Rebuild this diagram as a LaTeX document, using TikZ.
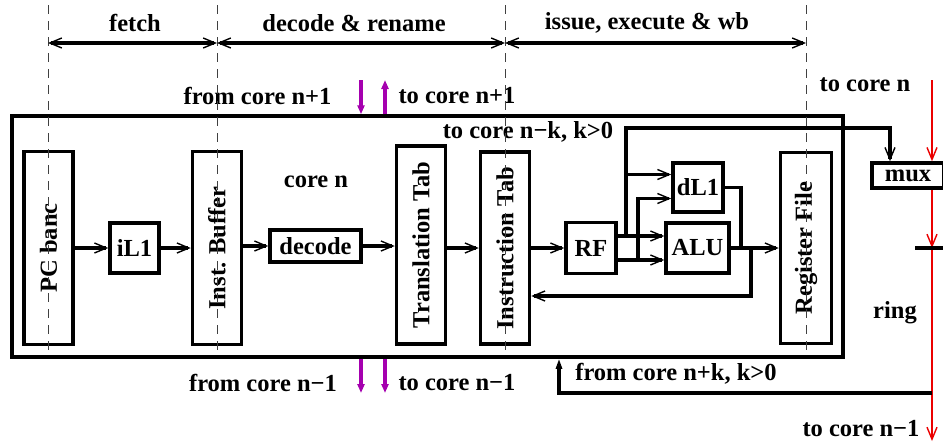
\documentclass[tikz,border=0pt]{standalone}
\usepackage{fontspec}
\setmainfont{Liberation Serif}
\usetikzlibrary{arrows.meta}

\definecolor{ringred}{RGB}{235,0,0}
\definecolor{linkmag}{RGB}{165,0,175}

\tikzset{
  txt/.style={font=\fontsize{24.5}{28}\selectfont\bfseries, inner sep=0pt},
  blk/.style={txt, draw, line width=3.5pt},
  tallblk/.style={blk, minimum width=49pt, minimum height=193pt},
  barb/.tip={Straight Barb[length=12pt,width=10pt,line width=1.4pt]},
  wire/.style={line width=3.3pt, -barb},
  plain/.style={line width=3.3pt},
  stage/.style={line width=3.3pt, barb-barb},
  sep/.style={line width=1pt, dash pattern=on 9pt off 7pt, black!75},
  ring/.style={ringred, line width=2.8pt, -barb},
  link/.style={linkmag, line width=3.3pt, -{Triangle[length=9pt,width=7pt]}},
  ext/.style={line width=3.3pt, -{Triangle[length=10pt,width=6pt]}}
}

\begin{document}
\begin{tikzpicture}[x=1pt,y=-1pt]
\useasboundingbox (0,0) rectangle (943,442);

% core outline
\node [draw, line width=3.5pt, minimum width=831pt, minimum height=241pt, at={(427.5,236.5)}] (core) {};
\node [txt, at={(316,182)}] (corelbl) {core n};

% pipeline blocks
\node [tallblk, at={(48.5,248)}] (pcb) {\rotatebox{90}{PC banc}};
\node [blk, minimum width=49pt, minimum height=50pt, at={(134.5,248)}] (il1) {iL1};
\node [tallblk, at={(217,248)}] (ibuf) {\rotatebox{90}{Inst. Buffer}};
\node [blk, minimum width=91pt, minimum height=32pt, at={(315.5,246)}] (dec) {decode};
\node [tallblk, minimum height=198pt, at={(421,245)}] (ttab) {\rotatebox{90}{Translation Tab}};
\node [tallblk, minimum height=192pt, at={(505,248)}] (itab) {\rotatebox{90}{Instruction Tab}};
\node [blk, minimum width=50pt, minimum height=51pt, at={(591,248)}] (rf) {RF};
\node [blk, minimum width=50pt, minimum height=49pt, at={(698,187.5)}] (dl1) {dL1};
\node [blk, minimum width=63pt, minimum height=50pt, at={(697.5,248)}] (alu) {ALU};
\node [tallblk, minimum width=51pt, minimum height=191pt, at={(806,248)}] (regf) {\rotatebox{90}{Register File}};
\node [blk, minimum width=72pt, minimum height=25pt, at={(908,175.5)}] (mux) {mux};

% front end
\draw [wire] (pcb) -- (il1);
\draw [wire] (il1) -- (ibuf);
\draw [wire] (ibuf.east |- dec) -- (dec);
\draw [wire] (dec) -- (dec -| ttab.west);
\draw [wire] (ttab.east |- itab) -- (itab);
\draw [wire] (itab) -- (rf);

% execute
\coordinate (jA) at (626,236);
\coordinate (jB) at (638,260);
\coordinate (jC) at (741,248);
\coordinate (jD) at (751,248);
\coordinate (ktop) at (890,128);
\draw [wire] ([yshift=12pt]rf.east) -- ([yshift=12pt]alu.west);
\draw [wire] ([yshift=-12pt]rf.east) -- ([yshift=-12pt]alu.west);
\draw [wire] (jA) |- ([yshift=13pt]dl1.west);
\draw [wire] (jB) |- ([yshift=-11pt]dl1.west);
\draw [plain] (dl1.east) -| (jC);
\draw [wire] (alu) -- (regf);
\draw [wire] (jD) |- ([yshift=-48pt]itab.east);
\draw [wire] (jA) |- (ktop) -- (ktop |- mux.north);
\node [txt, at={(528,132)}] (nklbl) {to core n−k, k>0};

% neighbour links
\coordinate (up1) at (361,80);
\coordinate (up2) at (385,80);
\coordinate (dn1) at (361,393);
\coordinate (dn2) at (385,393);
\draw [link] (up1) -- (up1 |- core.north);
\draw [link] (up2 |- core.north) -- (up2);
\draw [link] (dn1 |- core.south) -- (dn1);
\draw [link] (dn2 |- core.south) -- (dn2);
\node [txt, at={(257.5,96)}] (fromup) {from core n+1};
\node [txt, at={(457,96)}] (toup) {to core n+1};
\node [txt, at={(263,383)}] (fromdn) {from core n−1};
\node [txt, at={(457,383)}] (todn) {to core n−1};

% ring
\coordinate (rtop) at (932,80);
\coordinate (tick) at (932,248);
\coordinate (tickl) at (915,248);
\coordinate (rbot) at (932,441);
\coordinate (nk) at (932,393);
\draw [ring] (rtop) -- (rtop |- mux.north);
\draw [ring] (rtop |- mux.south) -- (tick);
\draw [ring] (tick) -- (rbot);
\draw [plain] (tickl) -- ++(30,0);
\draw [ext] (nk) -| ([xshift=131.5pt]core.south);
\node [txt, at={(865,85)}] (ringin) {to core n};
\node [txt, at={(895,313)}] (ringlbl) {ring};
\node [txt, at={(861,429)}] (ringout) {to core n−1};
\node [txt, at={(676,374)}] (pklbl) {from core n+k, k>0};

% stages
\foreach \x in {48,217,505,806}
  \draw [sep] (\x,5) -- (\x,357);
\coordinate (s0) at (48,43);
\coordinate (s1) at (217,43);
\coordinate (s2) at (505,43);
\coordinate (s3) at (806,43);
\draw [stage] (s0) -- (s1);
\draw [stage] (s1) -- (s2);
\draw [stage] (s2) -- (s3);
\node [txt, at={(135,23)}] (fetchlbl) {fetch};
\node [txt, at={(354,23)}] (declbl) {decode \& rename};
\node [txt, at={(647,23)}] (isslbl) {issue, execute \& wb};
\end{tikzpicture}
\end{document}
